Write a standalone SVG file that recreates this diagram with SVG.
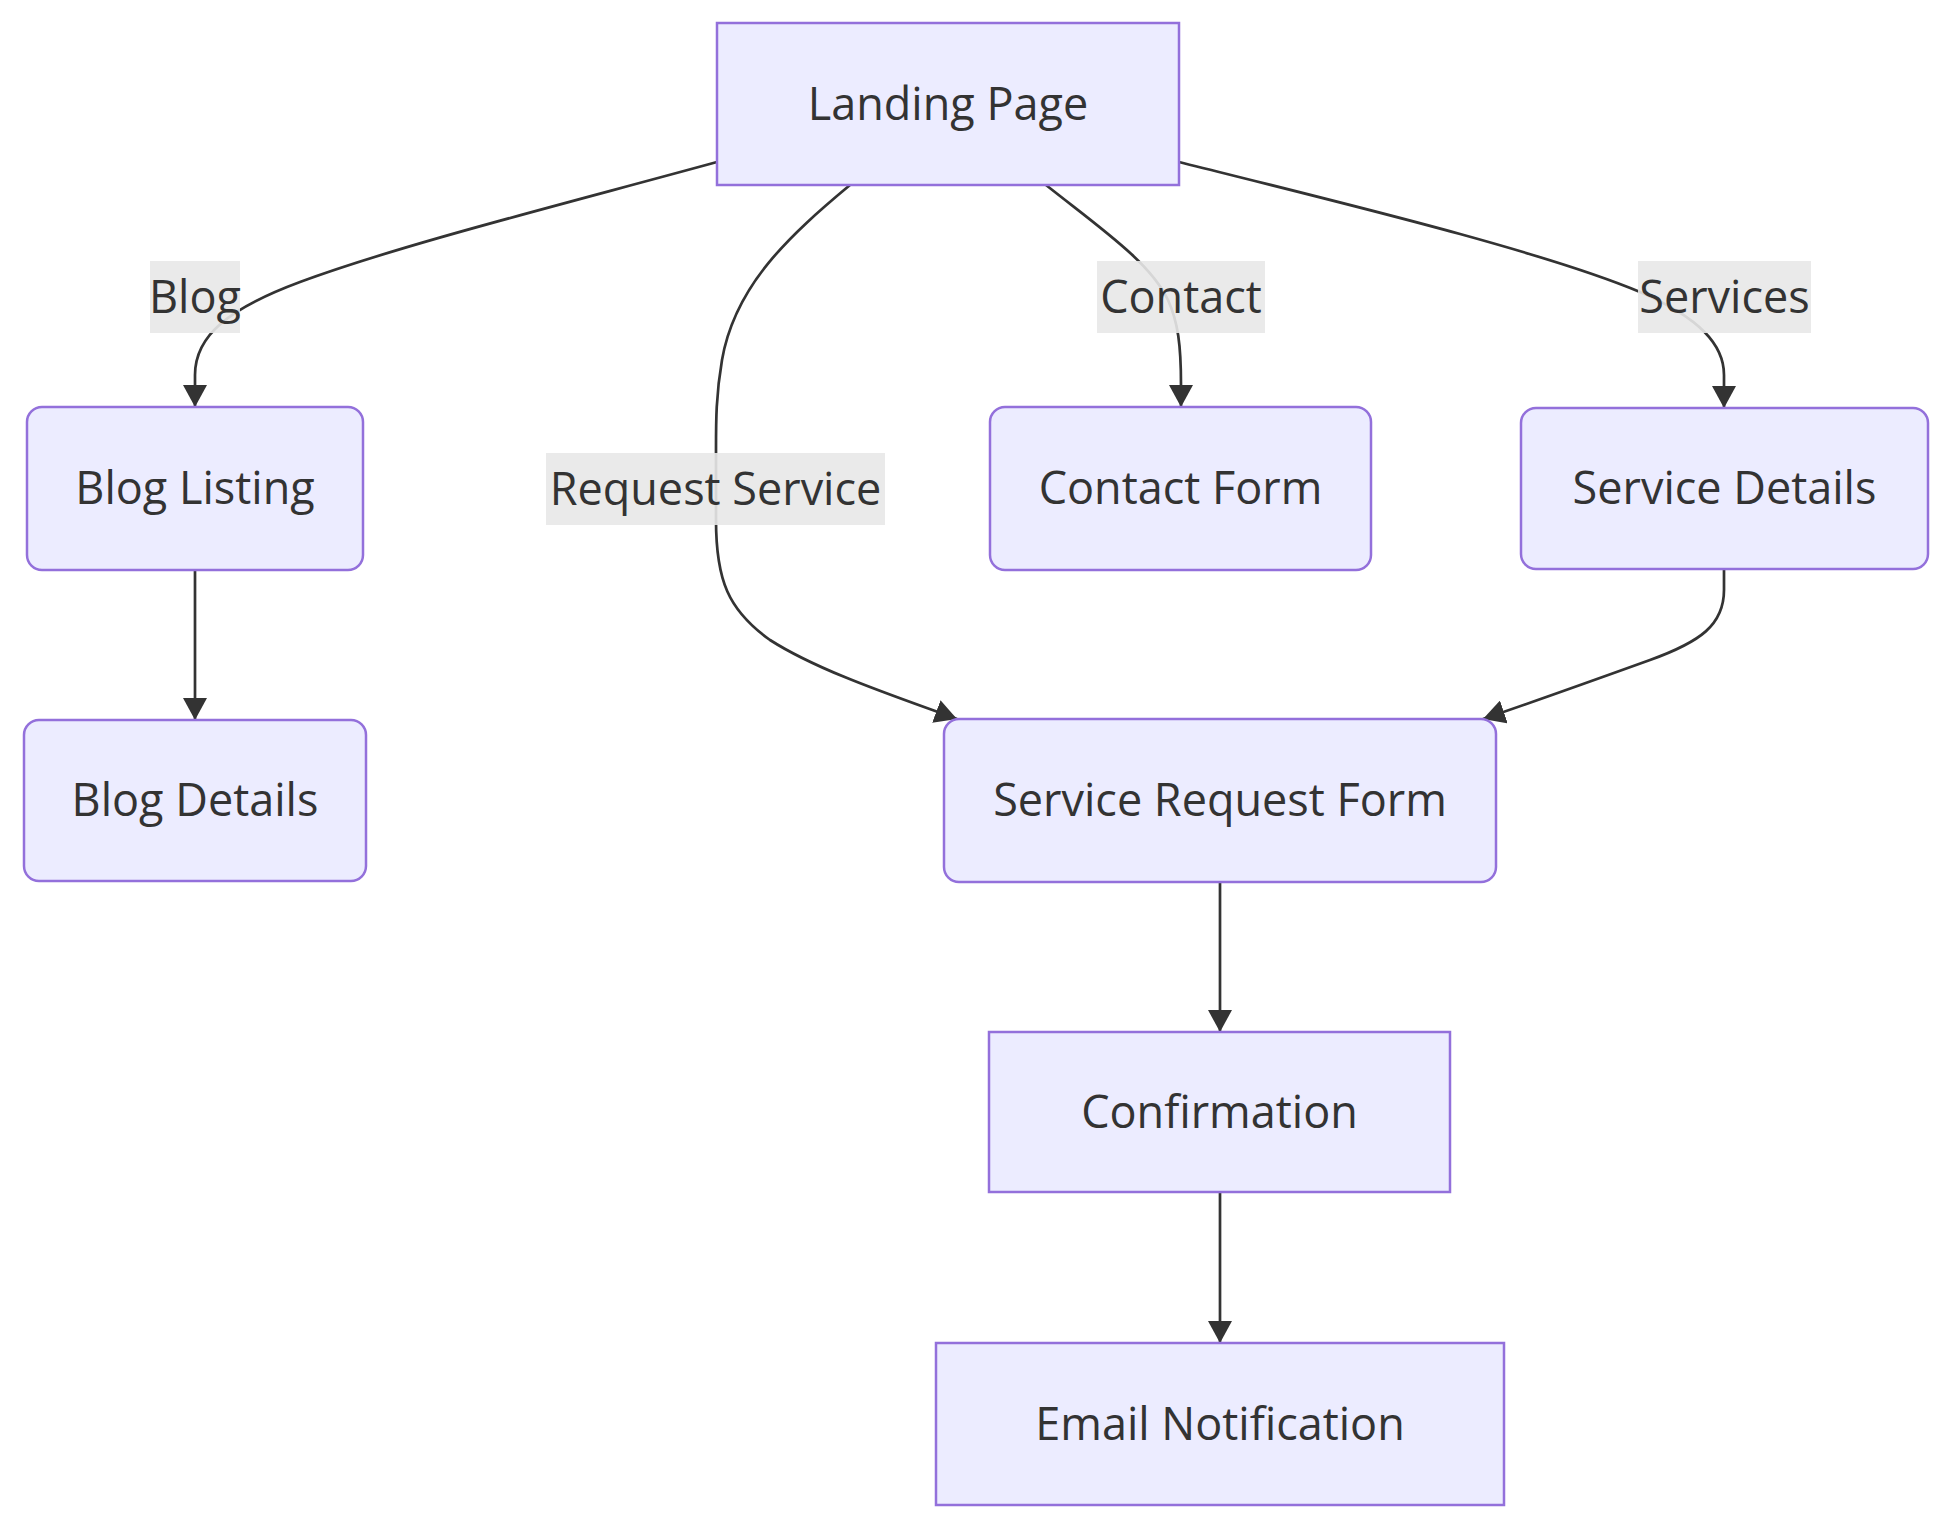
<svg xmlns="http://www.w3.org/2000/svg" width="1952" height="1530" viewBox="0 0 1952 1530">
<style>
.node rect{fill:#ECECFF;stroke:#9370DB;stroke-width:2.5}
.node text,.elabel text{font-family:"Open Sans","Liberation Sans",sans-serif;font-size:45px;fill:#333;text-anchor:middle}
.elabel rect{fill:#e8e8e8;fill-opacity:0.9}
.edge{fill:none;stroke:#333;stroke-width:2.7}
</style>
<defs>
<marker id="arr" viewBox="0 0 22 24" refX="22" refY="12" markerWidth="22" markerHeight="24" markerUnits="userSpaceOnUse" orient="auto">
<path d="M0,0 L22,12 L0,24 z" fill="#333"/>
</marker>
</defs>
<rect width="1952" height="1530" fill="#fff"/>
<g id="connectors">
<path class="edge" marker-end="url(#arr)" d="M717,162 C560,205 400,245 300,282 C230,308 195,335 195,375 L195,407"/>
<path class="edge" marker-end="url(#arr)" d="M850,185 C790,235 735,285 722,360 C716,395 716,420 716,450 L716,520 C716,580 728,610 770,640 C820,672 900,698 957,719"/>
<path class="edge" marker-end="url(#arr)" d="M1046,185 C1100,228 1150,262 1168,300 C1178,322 1181,345 1181,385 L1181,407"/>
<path class="edge" marker-end="url(#arr)" d="M1179,162 C1330,200 1540,250 1640,292 C1700,318 1724,345 1724,375 L1724,408"/>
<path class="edge" marker-end="url(#arr)" d="M195,570 L195,720"/>
<path class="edge" marker-end="url(#arr)" d="M1724,569 L1724,590 C1724,625 1700,642 1650,660 C1600,678 1530,703 1483,719"/>
<path class="edge" marker-end="url(#arr)" d="M1220,882 L1220,1032"/>
<path class="edge" marker-end="url(#arr)" d="M1220,1192 L1220,1343"/>
</g>
<g id="edge-labels">
<g class="elabel" id="label-blog"><rect x="150" y="261" width="90" height="72"/><text x="195" y="313">Blog</text></g>
<g class="elabel" id="label-request"><rect x="546" y="453" width="339" height="72"/><text x="715.5" y="505">Request Service</text></g>
<g class="elabel" id="label-contact"><rect x="1097" y="261" width="168" height="72"/><text x="1181" y="313">Contact</text></g>
<g class="elabel" id="label-services"><rect x="1638" y="261" width="173" height="72"/><text x="1724.5" y="313">Services</text></g>
</g>
<g class="node" id="landing"><rect x="717" y="23" width="462" height="162"/><text x="948" y="120">Landing Page</text></g>
<g class="node" id="blog-listing"><rect x="27" y="407" width="336" height="163" rx="15"/><text x="195" y="504">Blog Listing</text></g>
<g class="node" id="contact-form"><rect x="990" y="407" width="381" height="163" rx="15"/><text x="1180.5" y="504">Contact Form</text></g>
<g class="node" id="service-details"><rect x="1521" y="408" width="407" height="161" rx="15"/><text x="1724.5" y="504">Service Details</text></g>
<g class="node" id="blog-details"><rect x="24" y="720" width="342" height="161" rx="15"/><text x="195" y="816">Blog Details</text></g>
<g class="node" id="service-request"><rect x="944" y="719" width="552" height="163" rx="15"/><text x="1220" y="816">Service Request Form</text></g>
<g class="node" id="confirmation"><rect x="989" y="1032" width="461" height="160"/><text x="1219.5" y="1128">Confirmation</text></g>
<g class="node" id="email"><rect x="936" y="1343" width="568" height="162"/><text x="1220" y="1440">Email Notification</text></g>
</svg>
